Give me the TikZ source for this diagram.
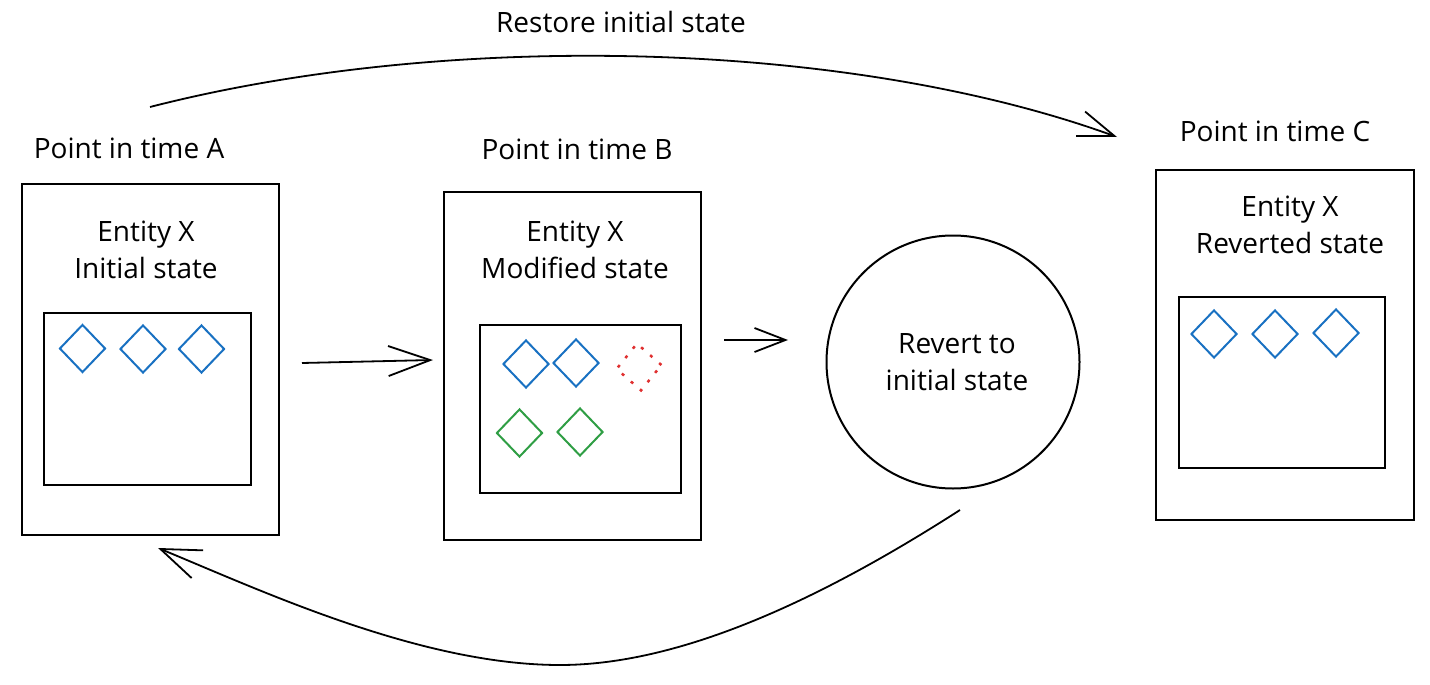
\documentclass[tikz,border=0pt]{standalone}
\usepackage{fontspec}
\setmainfont{Open Sans}
\usetikzlibrary{shapes.geometric,arrows.meta}
\definecolor{exblue}{HTML}{1971C2}
\definecolor{exgreen}{HTML}{2F9E44}
\definecolor{exred}{HTML}{E03131}
\begin{document}
\begin{tikzpicture}[x=1pt,y=-1pt,
  lbl/.style={font=\fontsize{28}{37}\selectfont, align=center, inner sep=0pt},
  frame/.style={draw, line width=2pt, inner sep=0pt},
  gem/.style={diamond, draw=#1, line width=2pt, inner sep=0pt, minimum width=46pt, minimum height=48pt},
  conn/.style={line width=1.8pt},
]
\useasboundingbox (0,0) rectangle (1430,685);
% boxes
\node[frame, minimum width=257pt, minimum height=351pt] (boxA) at (150.5,359.5) {};
\node[frame, minimum width=207pt, minimum height=172pt] (inA) at (147.5,399) {};
\node[frame, minimum width=257pt, minimum height=348pt] (boxB) at (572.5,366) {};
\node[frame, minimum width=201pt, minimum height=168pt] (inB) at (580.5,409) {};
\node[frame, circle, minimum size=253pt] (rev) at (953,362) {};
\node[frame, minimum width=258pt, minimum height=350pt] (boxC) at (1285,345) {};
\node[frame, minimum width=206pt, minimum height=171pt] (inC) at (1282,382.5) {};
% labels
\node[lbl] (tA) at (129,148) {Point in time A};
\node[lbl] (tB) at (577,149) {Point in time B};
\node[lbl] (tC) at (1275,131) {Point in time C};
\node[lbl] (top) at (621,22) {Restore initial state};
\node[lbl] (eA) at (146,249.5) {Entity X\\Initial state};
\node[lbl] (eB) at (575,250) {Entity X\\Modified state};
\node[lbl] (eC) at (1290,224.5) {Entity X\\Reverted state};
\node[lbl] (rt) at (957,362.5) {Revert to\\initial state};
% diamonds
\node[gem=exblue] (a1) at (82.5,348.5) {};
\node[gem=exblue] (a2) at (143,349) {};
\node[gem=exblue] (a3) at (201.5,349) {};
\node[gem=exblue] (b1) at (526,364) {};
\node[gem=exblue] (b2) at (576,363) {};
\node[gem=exred, dash pattern=on 3pt off 9pt, line width=2.5pt, rotate=5] (b3) at (639,367) {};
\node[gem=exgreen] (b4) at (519.5,433) {};
\node[gem=exgreen] (b5) at (580,432) {};
\node[gem=exblue] (c1) at (1214,334) {};
\node[gem=exblue] (c2) at (1275,334) {};
\node[gem=exblue] (c3) at (1336,333) {};
% connectors
\coordinate (s1) at (302,363);
\coordinate (e1) at (433,360);
\draw[conn, -{Straight Barb[length=42pt,width=30pt,line width=1.8pt]}] (s1) -- (e1);
\coordinate (s2) at (724,340);
\coordinate (e2) at (788,340);
\draw[conn, -{Straight Barb[length=31pt,width=24pt,line width=1.8pt]}] (s2) -- (e2);
\coordinate (s3) at (150,107);
\coordinate (e3) at (1117,137);
\draw[conn, -{Straight Barb[length=36pt,width=26pt,line width=1.8pt]}] (s3) .. controls (450,30) and (850,40) .. (e3);
\coordinate (s4) at (960,510);
\coordinate (m4) at (560,665);
\coordinate (e4) at (158,548);
\draw[conn, -{Straight Barb[length=40pt,width=30pt,line width=1.8pt]}] (s4) .. controls (820,600) and (680,665) .. (m4) .. controls (420,665) and (260,590) .. (e4);
\end{tikzpicture}
\end{document}
